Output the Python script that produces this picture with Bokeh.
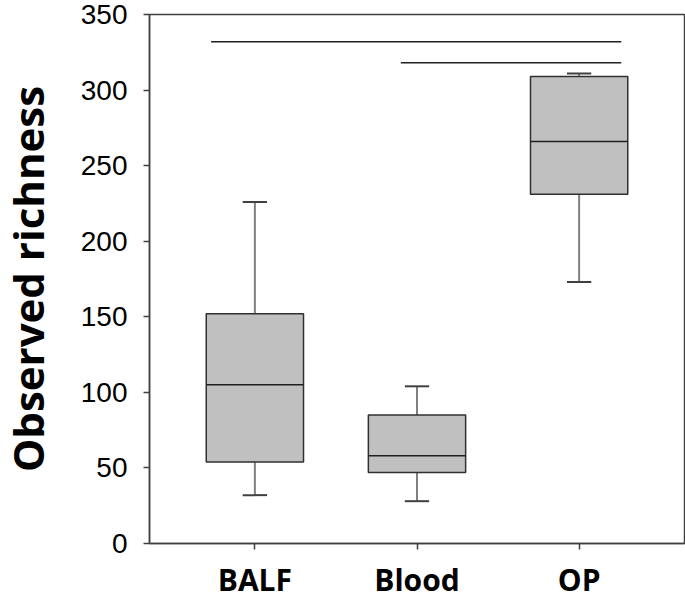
from bokeh.plotting import figure
from bokeh.models import Range1d, FixedTicker, ColumnDataSource
from bokeh.embed import file_html
from bokeh.resources import INLINE

# Data
categories = ["BALF", "Blood", "OP"]
positions = [1, 2, 3]
whisker_low = [32, 28, 173]
q1 = [54, 47, 231]
median = [105, 58, 266]
q3 = [152, 85, 309]
whisker_high = [226, 104, 311]

# significance brackets (x in category units, y in data units)
sig_x0 = [0.73, 1.9]
sig_x1 = [3.26, 3.26]
sig_y = [332, 318]

y_ticks = [0, 50, 100, 150, 200, 250, 300, 350]
y_title = "Observed richness"

box_w = 0.6
cap_w = 0.15

src = ColumnDataSource(dict(
    x=positions, lo=whisker_low, q1=q1, med=median, q3=q3, hi=whisker_high,
    left=[p - box_w / 2 for p in positions],
    right=[p + box_w / 2 for p in positions],
    cl=[p - cap_w / 2 for p in positions],
    cr=[p + cap_w / 2 for p in positions],
))

p = figure(width=694, height=602, output_backend="svg", toolbar_location=None,
           x_range=Range1d(0.35, 3.65), y_range=Range1d(0, 350),
           min_border_left=158, min_border_top=14, min_border_right=1,
           min_border_bottom=20, styles={"margin-left": "-9px"})

p.background_fill_color = "white"
p.border_fill_color = "white"
p.outline_line_color = "#404040"
p.outline_line_width = 1.5
p.xgrid.visible = False
p.ygrid.visible = False

# whiskers
p.segment(x0="x", x1="x", y0="lo", y1="q1", source=src, line_color="#808080", line_width=2)
p.segment(x0="x", x1="x", y0="q3", y1="hi", source=src, line_color="#808080", line_width=2)
# caps
p.segment(x0="cl", x1="cr", y0="lo", y1="lo", source=src, line_color="#404040", line_width=2)
p.segment(x0="cl", x1="cr", y0="hi", y1="hi", source=src, line_color="#404040", line_width=2)
# boxes
p.quad(left="left", right="right", bottom="q1", top="q3", source=src,
       fill_color="#c0c0c0", line_color="#303030", line_width=1.5)
# medians
p.segment(x0="left", x1="right", y0="med", y1="med", source=src, line_color="#202020", line_width=1.5)

# significance lines
p.segment(x0=sig_x0, x1=sig_x1, y0=sig_y, y1=sig_y, line_color="#202020", line_width=1.5)

# axes
p.xaxis.ticker = FixedTicker(ticks=positions)
p.xaxis.major_label_overrides = {pos: c for pos, c in zip(positions, categories)}
p.yaxis.ticker = FixedTicker(ticks=y_ticks)

for ax in (p.xaxis, p.yaxis):
    ax.axis_line_color = "#404040"
    ax.axis_line_width = 1.5
    ax.major_tick_line_color = "#404040"
    ax.major_tick_line_width = 1.5
    ax.major_tick_out = 6
    ax.major_tick_in = 0
    ax.minor_tick_line_color = None

p.xaxis.major_label_text_font = "Open Sans"
p.xaxis.major_label_text_font_style = "bold"
p.xaxis.major_label_text_font_size = "30px"
p.xaxis.major_label_text_color = "black"
p.xaxis.major_label_standoff = 9

p.yaxis.major_label_text_font = "Liberation Sans"
p.yaxis.major_label_text_font_size = "28px"
p.yaxis.major_label_text_color = "black"
p.yaxis.major_label_standoff = 16

p.yaxis.axis_label = y_title
p.yaxis.axis_label_text_font = "Open Sans"
p.yaxis.axis_label_text_font_style = "bold"
p.yaxis.axis_label_text_font_size = "42px"
p.yaxis.axis_label_text_color = "black"
p.yaxis.axis_label_standoff = 22

open("out.html", "w").write(file_html(p, INLINE))
